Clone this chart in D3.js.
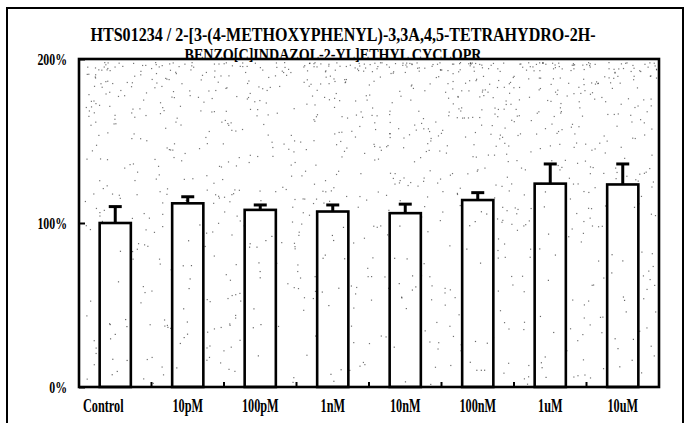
<!DOCTYPE html>
<html><head><meta charset="utf-8">
<script src="https://cdn.jsdelivr.net/npm/d3@7"></script>
<style>html,body{margin:0;padding:0;background:#fff;}</style>
</head><body>
<svg id="c" width="689" height="423"></svg>
<script>
const categories = ["Control","10pM","100pM","1nM","10nM","100nM","1uM","10uM"];
const values = [1.00, 1.12, 1.08, 1.07, 1.06, 1.14, 1.24, 1.235];
const errors = [0.10, 0.04, 0.03, 0.04, 0.055, 0.045, 0.12, 0.125];
const yTicks = [0, 1, 2];
const titleLines = ["HTS01234 / 2-[3-(4-METHOXYPHENYL)-3,3A,4,5-TETRAHYDRO-2H-",
                    "BENZO[C]INDAZOL-2-YL]ETHYL CYCLOPR"];

const svg = d3.select("#c");
const m = {l:79, r:659, t:59, b:387};
const font = "'Liberation Serif', serif";

// outer frame
svg.append("rect").attr("x",7).attr("y",8).attr("width",676).attr("height",430)
  .attr("fill","none").attr("stroke","#000").attr("stroke-width",2);

const x = d3.scaleBand().domain(categories).range([m.l, m.r]).paddingInner(0.57).paddingOuter(0.285);
const y = d3.scaleLinear().domain([0,2]).range([m.b, m.t]);

// stipple texture (deterministic)
const rnd = d3.randomLcg(0.4217);
const stip = svg.append("g");
for (let i = 0; i < 1300; i++) {
  const u = rnd(), v = Math.pow(rnd(), 1.7);
  stip.append("rect").attr("x", m.l + 3 + u*(m.r-m.l-6)).attr("y", m.t + 3 + v*(m.b-m.t-6))
    .attr("width", 1.2).attr("height", 1.2).attr("fill", "#000").attr("opacity", 0.55);
}

// error bars (upper)
const eb = svg.append("g");
categories.forEach((c,i) => {
  const cx = x(c) + x.bandwidth()/2;
  eb.append("line").attr("x1",cx).attr("x2",cx).attr("y1",y(values[i])).attr("y2",y(values[i]+errors[i]))
    .attr("stroke","#000").attr("stroke-width",3);
  eb.append("line").attr("x1",cx-6.5).attr("x2",cx+6.5).attr("y1",y(values[i]+errors[i])).attr("y2",y(values[i]+errors[i]))
    .attr("stroke","#000").attr("stroke-width",3);
});

// bars
svg.append("g").selectAll("rect").data(categories).join("rect")
  .attr("x", d => x(d)).attr("width", x.bandwidth())
  .attr("y", (d,i) => y(values[i])).attr("height", (d,i) => y(0) - y(values[i]))
  .attr("fill","#fff").attr("stroke","#000").attr("stroke-width",2.6);

// a few stipple dots inside bars
const rnd2 = d3.randomLcg(0.913);
categories.forEach((c,i) => {
  for (let k = 0; k < 12; k++) {
    svg.append("rect").attr("x", x(c) + 4 + rnd2()*(x.bandwidth()-8))
      .attr("y", y(values[i]) + 6 + rnd2()*(y(0)-y(values[i])-10))
      .attr("width",1.2).attr("height",1.2).attr("fill","#000").attr("opacity",0.6);
  }
});

// plot frame
svg.append("rect").attr("x",m.l).attr("y",m.t).attr("width",m.r-m.l).attr("height",m.b-m.t)
  .attr("fill","none").attr("stroke","#000").attr("stroke-width",2.6);

function squeeze(sel, f) {
  sel.each(function(){ const w = this.getComputedTextLength();
    d3.select(this).attr("textLength", w*f).attr("lengthAdjust","spacingAndGlyphs"); });
}

// y axis ticks (inward) and labels
const yAxis = d3.axisLeft(y).tickValues(yTicks).tickSize(-6).tickPadding(12)
  .tickFormat(d => Math.round(d*100) + "%");
const ya = svg.append("g").attr("transform",`translate(${m.l},0)`).call(yAxis);
ya.select(".domain").remove();
ya.selectAll(".tick line").attr("stroke","#000").attr("stroke-width",2);
ya.selectAll(".tick text").attr("font-family",font).attr("font-size",16).attr("font-weight","bold")
  .attr("fill","#000").attr("dy","0.36em");
squeeze(ya.selectAll(".tick text"), 0.74);

// x axis: labels under bars, inward ticks between bands
const xAxis = d3.axisBottom(x).tickSize(0).tickPadding(12);
const xa = svg.append("g").attr("transform",`translate(0,${m.b})`).call(xAxis);
xa.select(".domain").remove();
xa.selectAll(".tick text").attr("font-family",font).attr("font-size",18).attr("font-weight","bold")
  .attr("fill","#000").attr("dx",(d,i)=> i===0 ? -12 : 0);
squeeze(xa.selectAll(".tick text"), 0.68);
const step = x.step();
categories.slice(1).forEach(c => {
  const bx = x(c) - (step - x.bandwidth())/2;
  svg.append("line").attr("x1",bx).attr("x2",bx).attr("y1",m.b).attr("y2",m.b-5)
    .attr("stroke","#000").attr("stroke-width",2);
});

// title
svg.append("text").attr("x",343).attr("y",41).attr("text-anchor","middle")
  .attr("font-family",font).attr("font-size",18).attr("font-weight","bold")
  .attr("textLength",505).attr("lengthAdjust","spacingAndGlyphs").text(titleLines[0]);
svg.append("text").attr("x",333).attr("y",60).attr("text-anchor","middle")
  .attr("font-family",font).attr("font-size",16.5).attr("font-weight","bold")
  .attr("textLength",297).attr("lengthAdjust","spacingAndGlyphs").text(titleLines[1]);
</script>
</body></html>
